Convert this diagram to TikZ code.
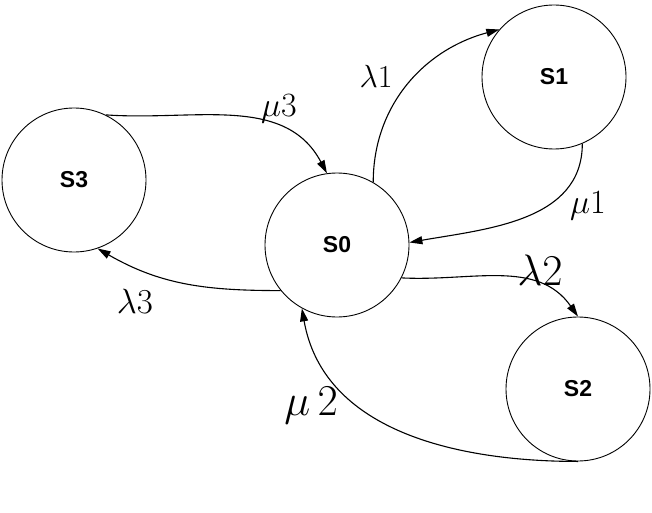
\RequirePackage{fix-cm}
\documentclass[tikz,border=0pt]{standalone}
\usepackage{fontspec}
\setsansfont{Liberation Sans}
\usetikzlibrary{arrows.meta}
\begin{document}
\begin{tikzpicture}[x=1pt,y=1pt,
  state/.style={circle,draw,line width=0.9pt,fill=white,minimum size=144pt,inner sep=0pt,
    font=\sffamily\bfseries\fontsize{23}{27}\selectfont},
  trans/.style={line width=1.1pt,-{Triangle[length=13pt,width=8pt]}},
  rate/.style={anchor=base,inner sep=0pt}]
\useasboundingbox (0,0) rectangle (652,512);

\node[state] (s0) at (337,267) {S0};
\node[state] (s1) at (554,435) {S1};
\node[state] (s2) at (578,123) {S2};
\node[state] (s3) at (74,332) {S3};

\draw[trans] (s0.60) to[out=90,in=195] (s1.139);
\draw[trans] (s1.-67) to[out=-90,in=10] (s0.2);
\draw[trans] (s0.-27) to[out=-3,in=125] (s2.90);
\draw[trans] (s2.-90) to[out=180,in=-80] (s0.-119);
\draw[trans] (s3.64) to[out=-4,in=118] (s0.98);
\draw[trans] (s0.-141) to[out=180,in=-30] (s3.-71);

\node[rate,font=\fontsize{32}{37}\selectfont] (l1) at (376,424) {$\lambda1$};
\node[rate,font=\fontsize{34}{39}\selectfont] (m1) at (588,299) {$\mu1$};
\node[rate,font=\fontsize{44}{50}\selectfont] (l2) at (540,227) {$\lambda2$};
\node[rate,font=\fontsize{44}{50}\selectfont] (m2) at (311,97) {$\mu\,2$};
\node[rate,font=\fontsize{34}{39}\selectfont] (m3) at (279,395) {$\mu3$};
\node[rate,font=\fontsize{35}{40}\selectfont] (l3) at (135,199) {$\lambda3$};
\end{tikzpicture}
\end{document}
